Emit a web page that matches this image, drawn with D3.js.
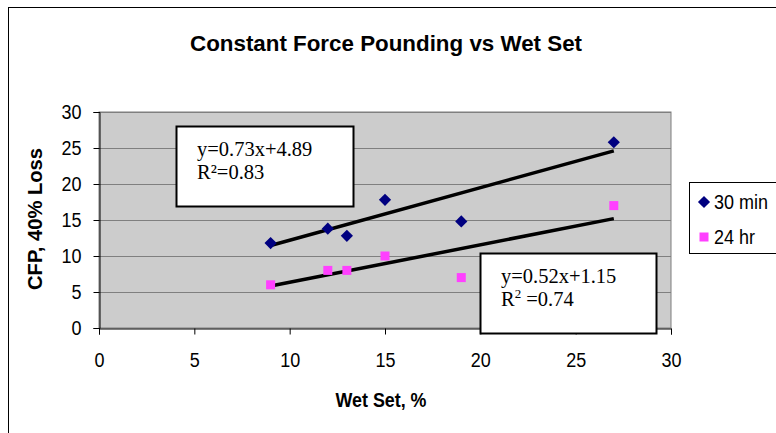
<!DOCTYPE html>
<html>
<head>
<meta charset="utf-8">
<script src="https://cdn.jsdelivr.net/npm/d3@7"></script>
<style>
  html, body { margin: 0; padding: 0; background: #ffffff; }
  svg { display: block; }
</style>
</head>
<body>
<div id="chart"></div>
<script>
// Données
const wetSet     = [9, 12, 13, 15, 19, 27]
const cfp30min   = [11.8, 13.8, 12.8, 17.8, 14.8, 25.8]
const cfp24hr    = [6, 8, 8, 10, 7, 17]
const xTicks     = [0, 5, 10, 15, 20, 25, 30]
const yTicks     = [0, 5, 10, 15, 20, 25, 30]
const seriesNames = ['30 min', '24 hr']
const fit30 = { slope: 0.73, intercept: 4.89, r2: '0.83' }
const fit24 = { slope: 0.52, intercept: 1.15, r2: '0.74' }

const C = {
  plotBg:  '#cccccc',
  grid:    '#7f7f7f',
  navy:    '#000080',
  pink:    '#ff40ff',
  text:    '#000000',
}
const SANS  = 'Arial, "Liberation Sans", sans-serif'
const SERIF = '"Times New Roman", "Liberation Serif", serif'

const width = 776, height = 433
const plot = { left: 99, right: 671, top: 112, bottom: 328 }

const svg = d3.select('#chart').append('svg')
  .attr('width', width).attr('height', height)

// Cadre extérieur du graphique (coupé à droite et en bas)
svg.append('rect')
  .attr('x', 8.5).attr('y', 7.5)
  .attr('width', 800).attr('height', 500)
  .attr('fill', 'none').attr('stroke', '#000').attr('stroke-width', 1)

// Texte étiré verticalement, comme dans l'original
function stretched(sel, x, y, sy) {
  return sel.attr('transform', `translate(${x},${y}) scale(1,${sy})`)
}

// Titre
stretched(svg.append('text'), 386, 51, 1.08)
  .attr('text-anchor', 'middle')
  .attr('font-family', SANS).attr('font-weight', 'bold').attr('font-size', 21)
  .attr('textLength', 392).attr('lengthAdjust', 'spacingAndGlyphs')
  .attr('fill', C.text)
  .text('Constant Force Pounding vs Wet Set')

// Échelles
const x = d3.scaleLinear().domain([0, 30]).range([plot.left, plot.right])
const y = d3.scaleLinear().domain([0, 30]).range([plot.bottom, plot.top])

// Zone de tracé
svg.append('rect')
  .attr('x', plot.left).attr('y', plot.top)
  .attr('width', plot.right - plot.left).attr('height', plot.bottom - plot.top)
  .attr('fill', C.plotBg).attr('stroke', C.grid).attr('stroke-width', 1)

// Grille horizontale
svg.append('g')
  .selectAll('line')
  .data(yTicks.filter(d => d > 0))
  .join('line')
  .attr('x1', plot.left).attr('x2', plot.right)
  .attr('y1', d => Math.round(y(d)) + 0.5).attr('y2', d => Math.round(y(d)) + 0.5)
  .attr('stroke', C.grid).attr('stroke-width', 1)

// Axe Y
const yAxis = svg.append('g')
  .attr('transform', `translate(${plot.left + 0.5},0)`)
  .call(d3.axisLeft(y).tickValues(yTicks).tickSize(6).tickPadding(12).tickFormat(d3.format('d')))
yAxis.select('.domain').attr('stroke', '#000')
yAxis.selectAll('.tick line').attr('stroke', '#000')
yAxis.selectAll('.tick text')
  .attr('font-family', SANS).attr('font-size', 18).attr('fill', C.text)
  .attr('dy', null)
  .attr('transform', 'translate(0,6.5) scale(1,1.15)')

// Axe X
const xAxis = svg.append('g')
  .attr('transform', `translate(0,${plot.bottom + 0.5})`)
  .call(d3.axisBottom(x).tickValues(xTicks).tickSize(6).tickPadding(0).tickFormat(d3.format('d')))
xAxis.select('.domain').attr('stroke', '#000')
xAxis.selectAll('.tick line').attr('stroke', '#000')
xAxis.selectAll('.tick text')
  .attr('font-family', SANS).attr('font-size', 18).attr('fill', C.text)
  .attr('y', null).attr('dy', null)
  .attr('transform', 'translate(0,38) scale(1,1.15)')

// Titres des axes
stretched(svg.append('text'), 381, 407, 1.15)
  .attr('text-anchor', 'middle')
  .attr('font-family', SANS).attr('font-weight', 'bold').attr('font-size', 18)
  .attr('textLength', 91).attr('lengthAdjust', 'spacingAndGlyphs')
  .attr('fill', C.text)
  .text('Wet Set, %')

svg.append('text')
  .attr('transform', 'translate(42,219) rotate(-90) scale(1,1.12)')
  .attr('text-anchor', 'middle')
  .attr('font-family', SANS).attr('font-weight', 'bold').attr('font-size', 18)
  .attr('textLength', 142).attr('lengthAdjust', 'spacingAndGlyphs')
  .attr('fill', C.text)
  .text('CFP, 40% Loss')

// Droites de régression (de x min à x max)
const xMin = d3.min(wetSet), xMax = d3.max(wetSet)
for (const f of [fit30, fit24]) {
  svg.append('line')
    .attr('x1', x(xMin)).attr('y1', y(f.slope * xMin + f.intercept))
    .attr('x2', x(xMax)).attr('y2', y(f.slope * xMax + f.intercept))
    .attr('stroke', '#000').attr('stroke-width', 3.5)
}

// Points 30 min — losanges
const pts30 = wetSet.map((w, i) => ({ x: w, y: cfp30min[i] }))
const pts24 = wetSet.map((w, i) => ({ x: w, y: cfp24hr[i] }))
const diamond = d3.symbol().type(d3.symbolDiamond2).size(95)

svg.append('g').selectAll('path')
  .data(pts30)
  .join('path')
  .attr('transform', d => `translate(${x(d.x)},${y(d.y)})`)
  .attr('d', diamond)
  .attr('fill', C.navy)

// Points 24 hr — carrés
svg.append('g').selectAll('rect')
  .data(pts24)
  .join('rect')
  .attr('x', d => x(d.x) - 4.5).attr('y', d => y(d.y) - 4.5)
  .attr('width', 9).attr('height', 9)
  .attr('fill', C.pink)

// Encadrés des équations
function eqBox(bx, by, bw, bh, fit, supSpace) {
  const g = svg.append('g')
  g.append('rect')
    .attr('x', bx + 0.5).attr('y', by + 0.5).attr('width', bw).attr('height', bh)
    .attr('fill', '#fff').attr('stroke', '#000').attr('stroke-width', 2)
  g.append('text')
    .attr('x', bx + 21).attr('y', by + 30)
    .attr('font-family', SERIF).attr('font-size', 20.5).attr('fill', C.text)
    .text(`y=${fit.slope}x+${fit.intercept}`)
  const t = g.append('text')
    .attr('x', bx + 21).attr('y', by + 53)
    .attr('font-family', SERIF).attr('font-size', 20.5).attr('fill', C.text)
  if (supSpace) {
    t.append('tspan').text('R')
    t.append('tspan').attr('font-size', 13).attr('dy', -8).text('2')
    t.append('tspan').attr('dy', 8).text(` =${fit.r2}`)
  } else {
    t.text(`R²=${fit.r2}`)
  }
}
eqBox(176, 126, 177, 80, fit30, false)
eqBox(480, 253, 176, 80, fit24, true)

// Légende
const legend = svg.append('g')
legend.append('rect')
  .attr('x', 689.5).attr('y', 182.5).attr('width', 120).attr('height', 71)
  .attr('fill', '#fff').attr('stroke', '#000').attr('stroke-width', 1)

const legendRows = [
  { name: seriesNames[0], y: 202, shape: 'diamond', color: C.navy },
  { name: seriesNames[1], y: 237, shape: 'square', color: C.pink },
]
legendRows.forEach(r => {
  if (r.shape === 'diamond') {
    legend.append('path')
      .attr('transform', `translate(704,${r.y})`)
      .attr('d', diamond).attr('fill', r.color)
  } else {
    legend.append('rect')
      .attr('x', 699.5).attr('y', r.y - 4.5).attr('width', 9).attr('height', 9)
      .attr('fill', r.color)
  }
  stretched(legend.append('text'), 714, r.y + 6.5, 1.15)
    .attr('font-family', SANS).attr('font-size', 18).attr('fill', C.text)
    .text(r.name)
})
</script>
</body>
</html>
